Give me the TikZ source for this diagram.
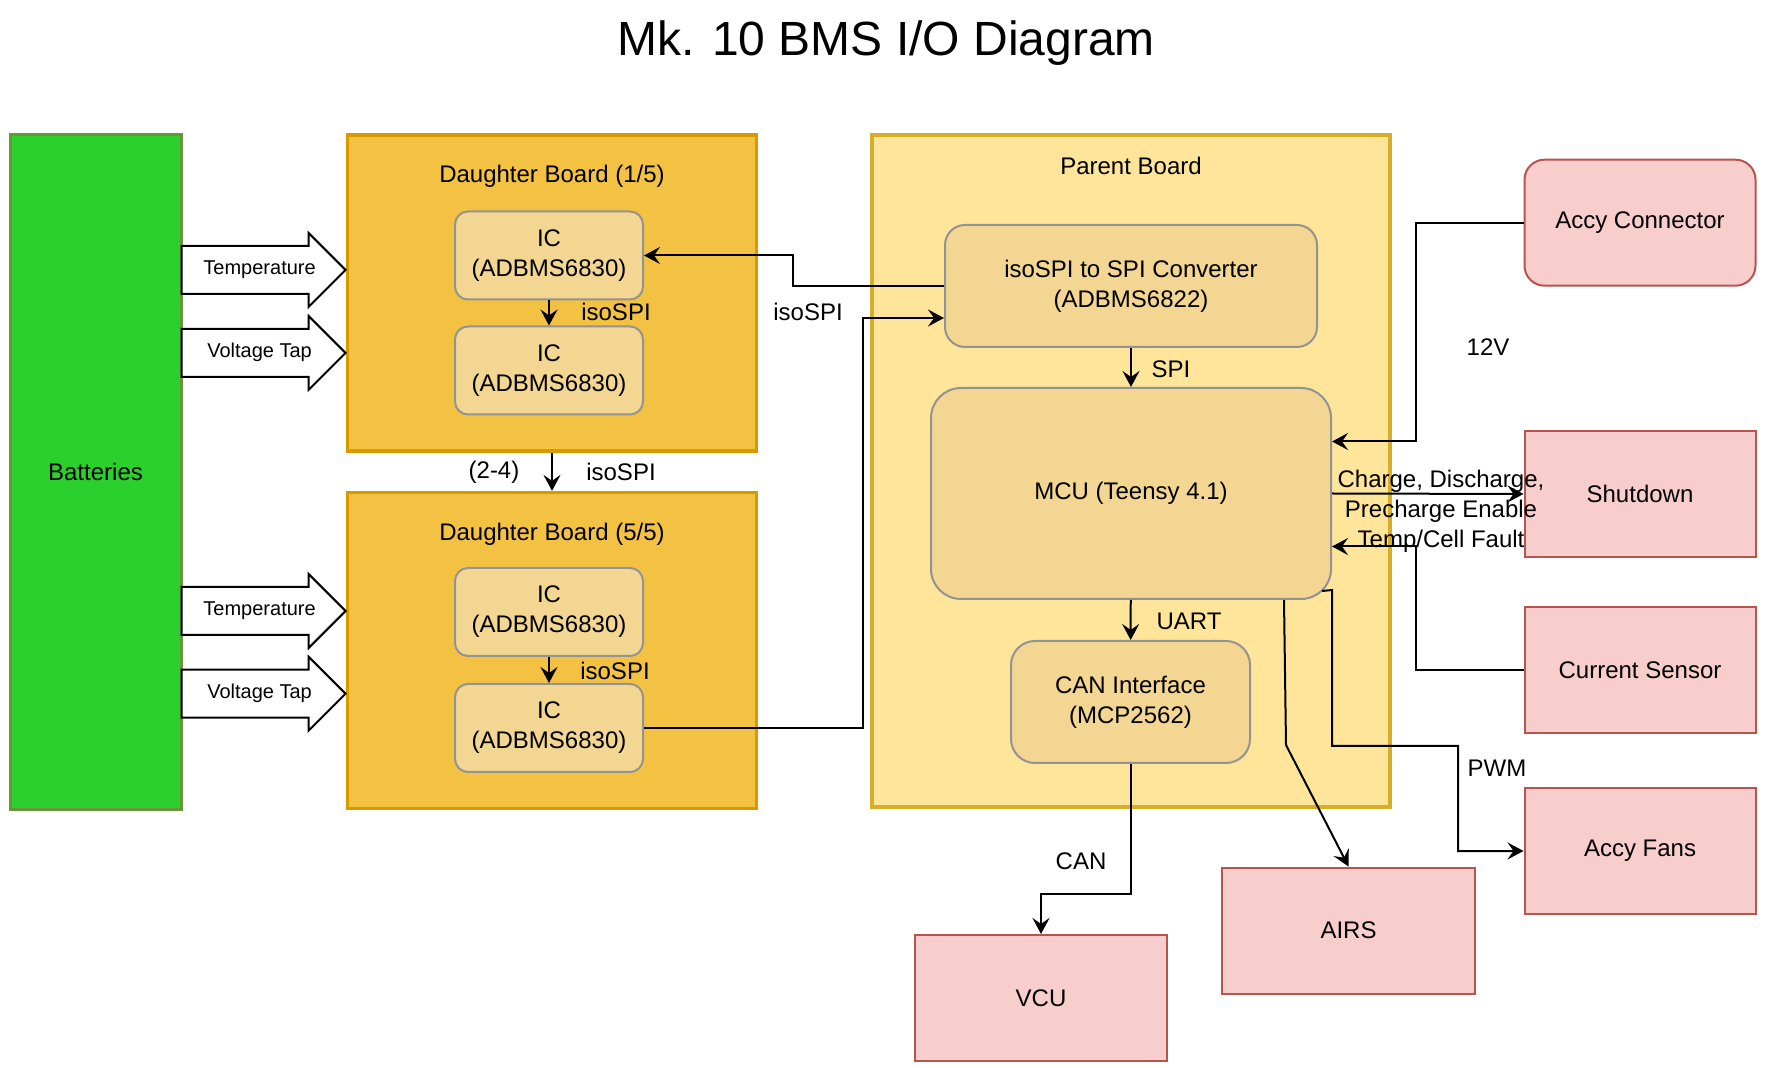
\documentclass[tikz,border=0pt]{standalone}
\usepackage{fontspec}
\setmainfont{Liberation Sans}
\usetikzlibrary{shapes.arrows, arrows.meta}
\definecolor{battfill}{HTML}{2CD02C}
\definecolor{battedge}{HTML}{67963C}
\definecolor{dbfill}{HTML}{F4C242}
\definecolor{dbedge}{HTML}{D79B00}
\definecolor{pbfill}{HTML}{FFE599}
\definecolor{pbedge}{HTML}{D6AE28}
\definecolor{chipfill}{HTML}{F2D691}
\definecolor{chipedge}{HTML}{939393}
\definecolor{extfill}{HTML}{F8CECC}
\definecolor{extedge}{HTML}{B85450}
\tikzstyle{lbl} = [font=\fontsize{12}{15}\selectfont, align=center]
\tikzstyle{battery} = [rectangle, fill=battfill, draw=battedge, line width=1.5pt, minimum width=85.5pt, minimum height=337.5pt, inner sep=0, lbl]
\tikzstyle{dboard} = [rectangle, fill=dbfill, draw=dbedge, line width=1.6pt, minimum width=204.5pt, minimum height=158pt, inner sep=0]
\tikzstyle{pboard} = [rectangle, fill=pbfill, draw=pbedge, line width=1.6pt, minimum width=259pt, minimum height=336pt, inner sep=0]
\tikzstyle{chip} = [rectangle, rounded corners=6.5pt, fill=chipfill, draw=chipedge, line width=1pt, minimum width=94pt, minimum height=44pt, inner sep=0, lbl]
\tikzstyle{part} = [rectangle, rounded corners=10pt, fill=chipfill, draw=chipedge, line width=1pt, inner sep=0, lbl]
\tikzstyle{ext} = [rectangle, fill=extfill, draw=extedge, line width=1pt, minimum width=115.5pt, minimum height=63pt, inner sep=0, lbl]
\tikzstyle{tap} = [single arrow, draw=black, fill=white, line width=1pt, font=\fontsize{10}{12}\selectfont, minimum height=82pt, single arrow head extend=6.5pt, single arrow tip angle=90, inner xsep=2pt, inner ysep=6.5pt, text height=7.5pt, text depth=2.5pt]
\tikzstyle{link} = [line width=1pt,-{Stealth[length=8pt,width=8.5pt,inset=3pt]}]

\begin{document}
\begin{tikzpicture}[x=0.5pt,y=-0.5pt]
\useasboundingbox (0,0) rectangle (1772,1068);

\node[anchor=base, font=\fontsize{24}{29}\selectfont] (title) at (886,56) {Mk. 10 BMS I/O Diagram};

% batteries and daughter boards
\node[battery] (batt) at (95.5,472) {Batteries};
\node[dboard, label={[lbl, anchor=center, yshift=-21.5pt]north:Daughter Board (1/5)}] (db1) at (552,293) {};
\node[dboard, label={[lbl, anchor=center, yshift=-21.5pt]north:Daughter Board (5/5)}] (db2) at (552,650.5) {};
\node[chip] (ic1) at (549,255.5) {IC\\(ADBMS6830)};
\node[chip] (ic2) at (549,370.5) {IC\\(ADBMS6830)};
\node[chip] (ic3) at (549,612) {IC\\(ADBMS6830)};
\node[chip] (ic4) at (549,728) {IC\\(ADBMS6830)};
\node[tap, anchor=tip] (temp1) at (347,270) {\hspace*{8pt}Temperature};
\node[tap, anchor=tip] (volt1) at (347,353) {\hspace*{8pt}Voltage Tap};
\node[tap, anchor=tip] (temp2) at (347,611) {\hspace*{8pt}Temperature};
\node[tap, anchor=tip] (volt2) at (347,693.7) {\hspace*{8pt}Voltage Tap};

% parent board
\node[pboard, label={[lbl, anchor=center, yshift=-16.5pt]north:Parent Board}] (pb) at (1131,471) {};
\node[part, minimum width=186pt, minimum height=61pt] (conv) at (1131,286) {isoSPI to SPI Converter\\(ADBMS6822)};
\node[part, rounded corners=15pt, minimum width=200pt, minimum height=105.5pt] (mcu) at (1131,493.5) {MCU (Teensy 4.1)};
\node[part, rounded corners=12pt, minimum width=119.5pt, minimum height=61pt] (can) at (1130.5,702) {CAN Interface\\(MCP2562)};

% outside parts
\node[ext, rounded corners=10pt] (accy) at (1640,222.7) {Accy Connector};
\node[ext] (shut) at (1640,494) {Shutdown};
\node[ext] (cur) at (1640,670) {Current Sensor};
\node[ext] (fans) at (1640,851) {Accy Fans};
\node[ext, minimum width=126.5pt] (airs) at (1348.5,930.5) {AIRS};
\node[ext, minimum width=126pt] (vcu) at (1041,998) {VCU};

% connections
\coordinate (convin) at ([yshift=-16pt]conv.west);
\coordinate (mcu12) at ([yshift=26pt]mcu.east);
\coordinate (mcufault) at ([yshift=-26.5pt]mcu.east);
\coordinate (pwmout) at ([xshift=-5pt,yshift=4.5pt]mcu.south east);
\coordinate (airsout) at ([xshift=76.5pt]mcu.south);

\draw[link] (ic1) -- (ic2);
\draw[link] (ic3) -- (ic4);
\draw[link] (db1) -- (db2);
\draw[link] (conv.west) -- ++(-151,0) |- (ic1.east);
\draw[link] (ic4.east) -- ++(219,0) |- (convin);
\draw[link] (conv) -- (mcu);
\draw[link] (mcu) -- (can);
\draw[link] (accy.west) -- ++(-107.5,0) |- (mcu12);
\draw[link] (mcu.east) -- (shut.west);
\draw[link] (cur.west) -- ++(-107.5,0) |- (mcufault);
\draw[link] (can.south) -- ++(0,130) -| (vcu.north);
\draw[link] (airsout) -- (1286,745) -- (airs.north);
\draw[link] (pwmout) -- (1332,590) -- (1332,746) -- (1458,746) |- (fans.west);

\node[lbl] (iso1) at (616,312) {isoSPI};
\node[lbl] (iso2) at (615,671) {isoSPI};
\node[lbl] (range) at (494,472) {(2-4)};
\node[lbl] (iso3) at (621,472) {isoSPI};
\node[lbl] (iso4) at (808,312) {isoSPI};
\node[lbl] (spi) at (1171,369) {SPI};
\node[lbl] (uart) at (1189,621) {UART};
\node[lbl] (canlbl) at (1081,861) {CAN};
\node[lbl] (volts) at (1488,347) {12V};
\node[lbl] (pwm) at (1497,768) {PWM};
\node[lbl] (ctrl) at (1441,511) {Charge, Discharge,\\Precharge Enable\\Temp/Cell Fault};
\end{tikzpicture}
\end{document}
